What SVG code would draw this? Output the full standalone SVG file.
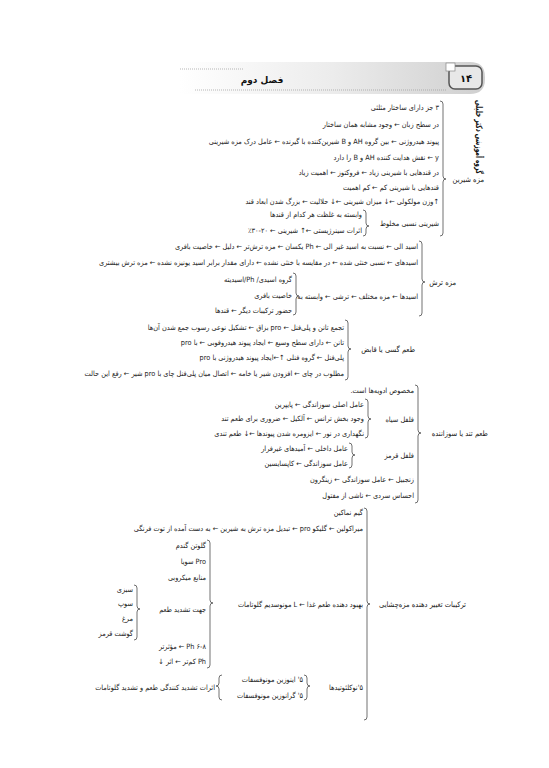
<svg xmlns="http://www.w3.org/2000/svg" width="549" height="768" viewBox="0 0 549 768">
<defs>
<linearGradient id="band" x1="0" y1="0" x2="1" y2="0">
<stop offset="0" stop-color="#ffffff"/>
<stop offset="0.5" stop-color="#ececec"/>
<stop offset="1" stop-color="#cfcfcf"/>
</linearGradient>
<style>
.t{font-family:"DejaVu Sans Condensed","DejaVu Sans",sans-serif;font-size:7.3px;fill:#222;direction:rtl;unicode-bidi:embed;text-anchor:start}
.lb{font-family:"DejaVu Sans Condensed","DejaVu Sans",sans-serif;font-size:7.5px;fill:#222;direction:rtl;unicode-bidi:embed;text-anchor:start}
.br{fill:none;stroke:#333;stroke-width:0.7}
.h{font-family:"DejaVu Sans","DejaVu Sans Condensed",sans-serif;font-weight:bold;fill:#111;direction:rtl;unicode-bidi:embed}
</style>
</defs>
<rect width="549" height="768" fill="#ffffff"/>
<g id="header">
<path d="M180,62 H470 Q485,62 485,77 V79 Q485,94 470,94 H180 Z" fill="url(#band)"/>
<line x1="180" y1="69" x2="243" y2="69" stroke="#999" stroke-width="0.7" stroke-dasharray="1,1"/>
<line x1="195" y1="90" x2="447" y2="90" stroke="#999" stroke-width="0.7" stroke-dasharray="1,1"/>
<rect x="449" y="66" width="33" height="23" rx="6" fill="#e8e8e8" stroke="#555" stroke-width="1.5"/>
<rect x="446" y="63" width="9" height="8" fill="#fff" stroke="#888" stroke-width="0.7"/>
<text x="466" y="82" class="h" font-size="10" text-anchor="middle">۱۴</text>
<text x="262" y="83" class="h" font-size="9" text-anchor="middle">فصل دوم</text>
</g>
<g id="margin">
<text transform="translate(476,100) rotate(90)" class="h" font-size="9" fill="#555" text-anchor="end" textLength="74" lengthAdjust="spacingAndGlyphs" style="direction:rtl">گروه آموزشی دکتر خلیلی</text>
</g>
<g id="connectors">
<path class="br" d="M440,101 Q443,101 443,104 V176 Q443,179 446,179 Q443,179 443,182 V233 Q443,236 440,236"/>
<path class="br" d="M363,210 Q366,210 366,213 V223 Q366,226 369,226 Q366,226 366,229 V233 Q366,236 363,236"/>
<path class="br" d="M419,241 Q422,241 422,244 V279 Q422,282 425,282 Q422,282 422,285 V313 Q422,316 419,316"/>
<path class="br" d="M293,273 Q296,273 296,276 V293 Q296,296 299,296 Q296,296 296,299 V312 Q296,315 293,315"/>
<path class="br" d="M345,320 Q348,320 348,323 V346 Q348,349 351,349 Q348,349 348,352 V377 Q348,380 345,380"/>
<path class="br" d="M415,385 Q418,385 418,388 V430 Q418,433 421,433 Q418,433 418,436 V500 Q418,503 415,503"/>
<path class="br" d="M365,399 Q368,399 368,402 V416 Q368,419 371,419 Q368,419 368,422 V435 Q368,438 365,438"/>
<path class="br" d="M349,443 Q352,443 352,446 V452 Q352,455 355,455 Q352,455 352,458 V465 Q352,468 349,468"/>
<path class="br" d="M364,508 Q367,508 367,511 V601 Q367,604 370,604 Q367,604 367,607 V717 Q367,720 364,720"/>
<path class="br" d="M207,540 Q210,540 210,543 V600 Q210,603 213,603 Q210,603 210,606 V665 Q210,668 207,668"/>
<path class="br" d="M134,585 Q137,585 137,588 V606 Q137,609 140,609 Q137,609 137,612 V637 Q137,640 134,640"/>
<path class="br" d="M304,675 Q307,675 307,678 V683 Q307,686 310,686 Q307,686 307,689 V697 Q307,700 304,700"/>
<path class="br" d="M222,675 Q219,675 219,678 V683 Q219,686 216,686 Q219,686 219,689 V697 Q219,700 222,700"/>
</g>
<g id="n-sweet">
<text x="484" y="182" class="lb">مزه شیرین</text>
<text x="439" y="110" class="t">۳ جز دارای ساختار مثلثی</text>
<text x="439" y="127" class="t">در سطح زبان ← وجود مشابه همان ساختار</text>
<text x="439" y="144" class="t">پیوند هیدروژنی ← بین گروه AH و B شیرین‌کننده با گیرنده ← عامل درک مزه شیرینی</text>
<text x="439" y="160" class="t">y ← نقش هدایت کننده AH و B را دارد</text>
<text x="439" y="175" class="t">در قندهایی با شیرینی زیاد ← فروکتوز ← اهمیت زیاد</text>
<text x="439" y="190" class="t">قندهایی با شیرینی کم ← کم اهمیت</text>
<text x="439" y="204" class="t">↑وزن مولکولی ←↓ میزان شیرینی ←↓ حلالیت ← بزرگ شدن ابعاد قند</text>
<text x="439" y="226" class="t">شیرینی نسبی مخلوط</text>
<text x="362" y="217" class="t">وابسته به غلظت هر کدام از قندها</text>
<text x="362" y="233" class="t">اثرات سینرژیستی ←↑ شیرینی ← ۲۰-۳۰٪</text>
</g>
<g id="n-sour">
<text x="456" y="285" class="lb">مزه ترش</text>
<text x="418" y="249" class="t">اسید الی ← نسبت به اسید غیر الی ← Ph یکسان ← مزه ترش‌تر ← دلیل ← خاصیت بافری</text>
<text x="418" y="265" class="t">اسیدهای ← نسبی خنثی شده ← در مقایسه با خنثی نشده ← دارای مقدار برابر اسید یونیزه نشده ← مزه ترش بیشتری</text>
<text x="418" y="299" class="t">اسیدها ← مزه مختلف ← ترشی ← وابسته به</text>
<text x="292" y="282" class="t">گروه اسیدی/ Ph/اسیدیته</text>
<text x="292" y="298" class="t">خاصیت بافری</text>
<text x="292" y="313" class="t">حضور ترکیبات دیگر ← قندها</text>
</g>
<g id="n-astringent">
<text x="415" y="352" class="lb">طعم گسی یا قابض</text>
<text x="344" y="330" class="t">تجمع تانن و پلی‌فنل ← pro بزاق ← تشکیل نوعی رسوب جمع شدن آن‌ها</text>
<text x="344" y="345" class="t">تانن ← دارای سطح وسیع ← ایجاد پیوند هیدروفوبی ← با pro</text>
<text x="344" y="360" class="t">پلی‌فنل ← گروه فنلی ↑←ایجاد پیوند هیدروژنی با pro</text>
<text x="344" y="376" class="t">مطلوب در چای ← افزودن شیر یا خامه ← اتصال میان پلی‌فنل چای با pro شیر ← رفع این حالت</text>
</g>
<g id="n-pungent">
<text x="488" y="436" class="lb">طعم تند یا سوزاننده</text>
<text x="414" y="393" class="t">مخصوص ادویه‌ها است.</text>
<text x="414" y="422" class="t">فلفل سیاه</text>
<text x="364" y="407" class="t">عامل اصلی سوزاندگی ← پایپرین</text>
<text x="364" y="421" class="t">وجود بخش ترانس ← آلکیل ← ضروری برای طعم تند</text>
<text x="364" y="436" class="t">نگهداری در نور ← ایزومره شدن پیوندها ←↓ طعم تندی</text>
<text x="414" y="458" class="t">فلفل قرمز</text>
<text x="348" y="451" class="t">عامل داخلی ← آمیدهای غیرفرار</text>
<text x="348" y="466" class="t">عامل سوزاندگی ← کاپسایسین</text>
<text x="414" y="482" class="t">زنجبیل ← عامل سوزاندگی ← زینگرون</text>
<text x="414" y="498" class="t">احساس سردی ← ناشی از مفتول</text>
</g>
<g id="n-modifiers">
<text x="466" y="607" class="lb">ترکیبات تغییر دهنده مزه‌چشایی</text>
<text x="363" y="515" class="t">گیم نماکین</text>
<text x="363" y="531" class="t">میراکولین ← گلیکو pro ← تبدیل مزه ترش به شیرین ← به دست آمده از توت فرنگی</text>
<text x="363" y="607" class="t">بهبود دهنده طعم غذا ← L مونوسدیم گلوتامات</text>
<text x="206" y="548" class="t">گلوتن گندم</text>
<text x="206" y="564" class="t">Pro سویا</text>
<text x="206" y="580" class="t">منابع میکروبی</text>
<text x="206" y="612" class="t">جهت تشدید طعم</text>
<text x="133" y="592" class="t">سبزی</text>
<text x="133" y="606" class="t">سوپ</text>
<text x="133" y="621" class="t">مرغ</text>
<text x="133" y="636" class="t">گوشت قرمز</text>
<text x="206" y="649" class="t">Ph ۶-۸ ← مؤثرتر</text>
<text x="206" y="664" class="t">Ph کم‌تر ← اثر ↓</text>
<text x="363" y="690" class="t">۵'نوکلئوتیدها</text>
<text x="303" y="682" class="t">۵' اینوزین مونوفسفات</text>
<text x="303" y="698" class="t">۵' گرانوزین مونوفسفات</text>
<text x="215" y="690" class="t">اثرات تشدید کنندگی طعم و تشدید گلوتامات</text>
</g>
</svg>
